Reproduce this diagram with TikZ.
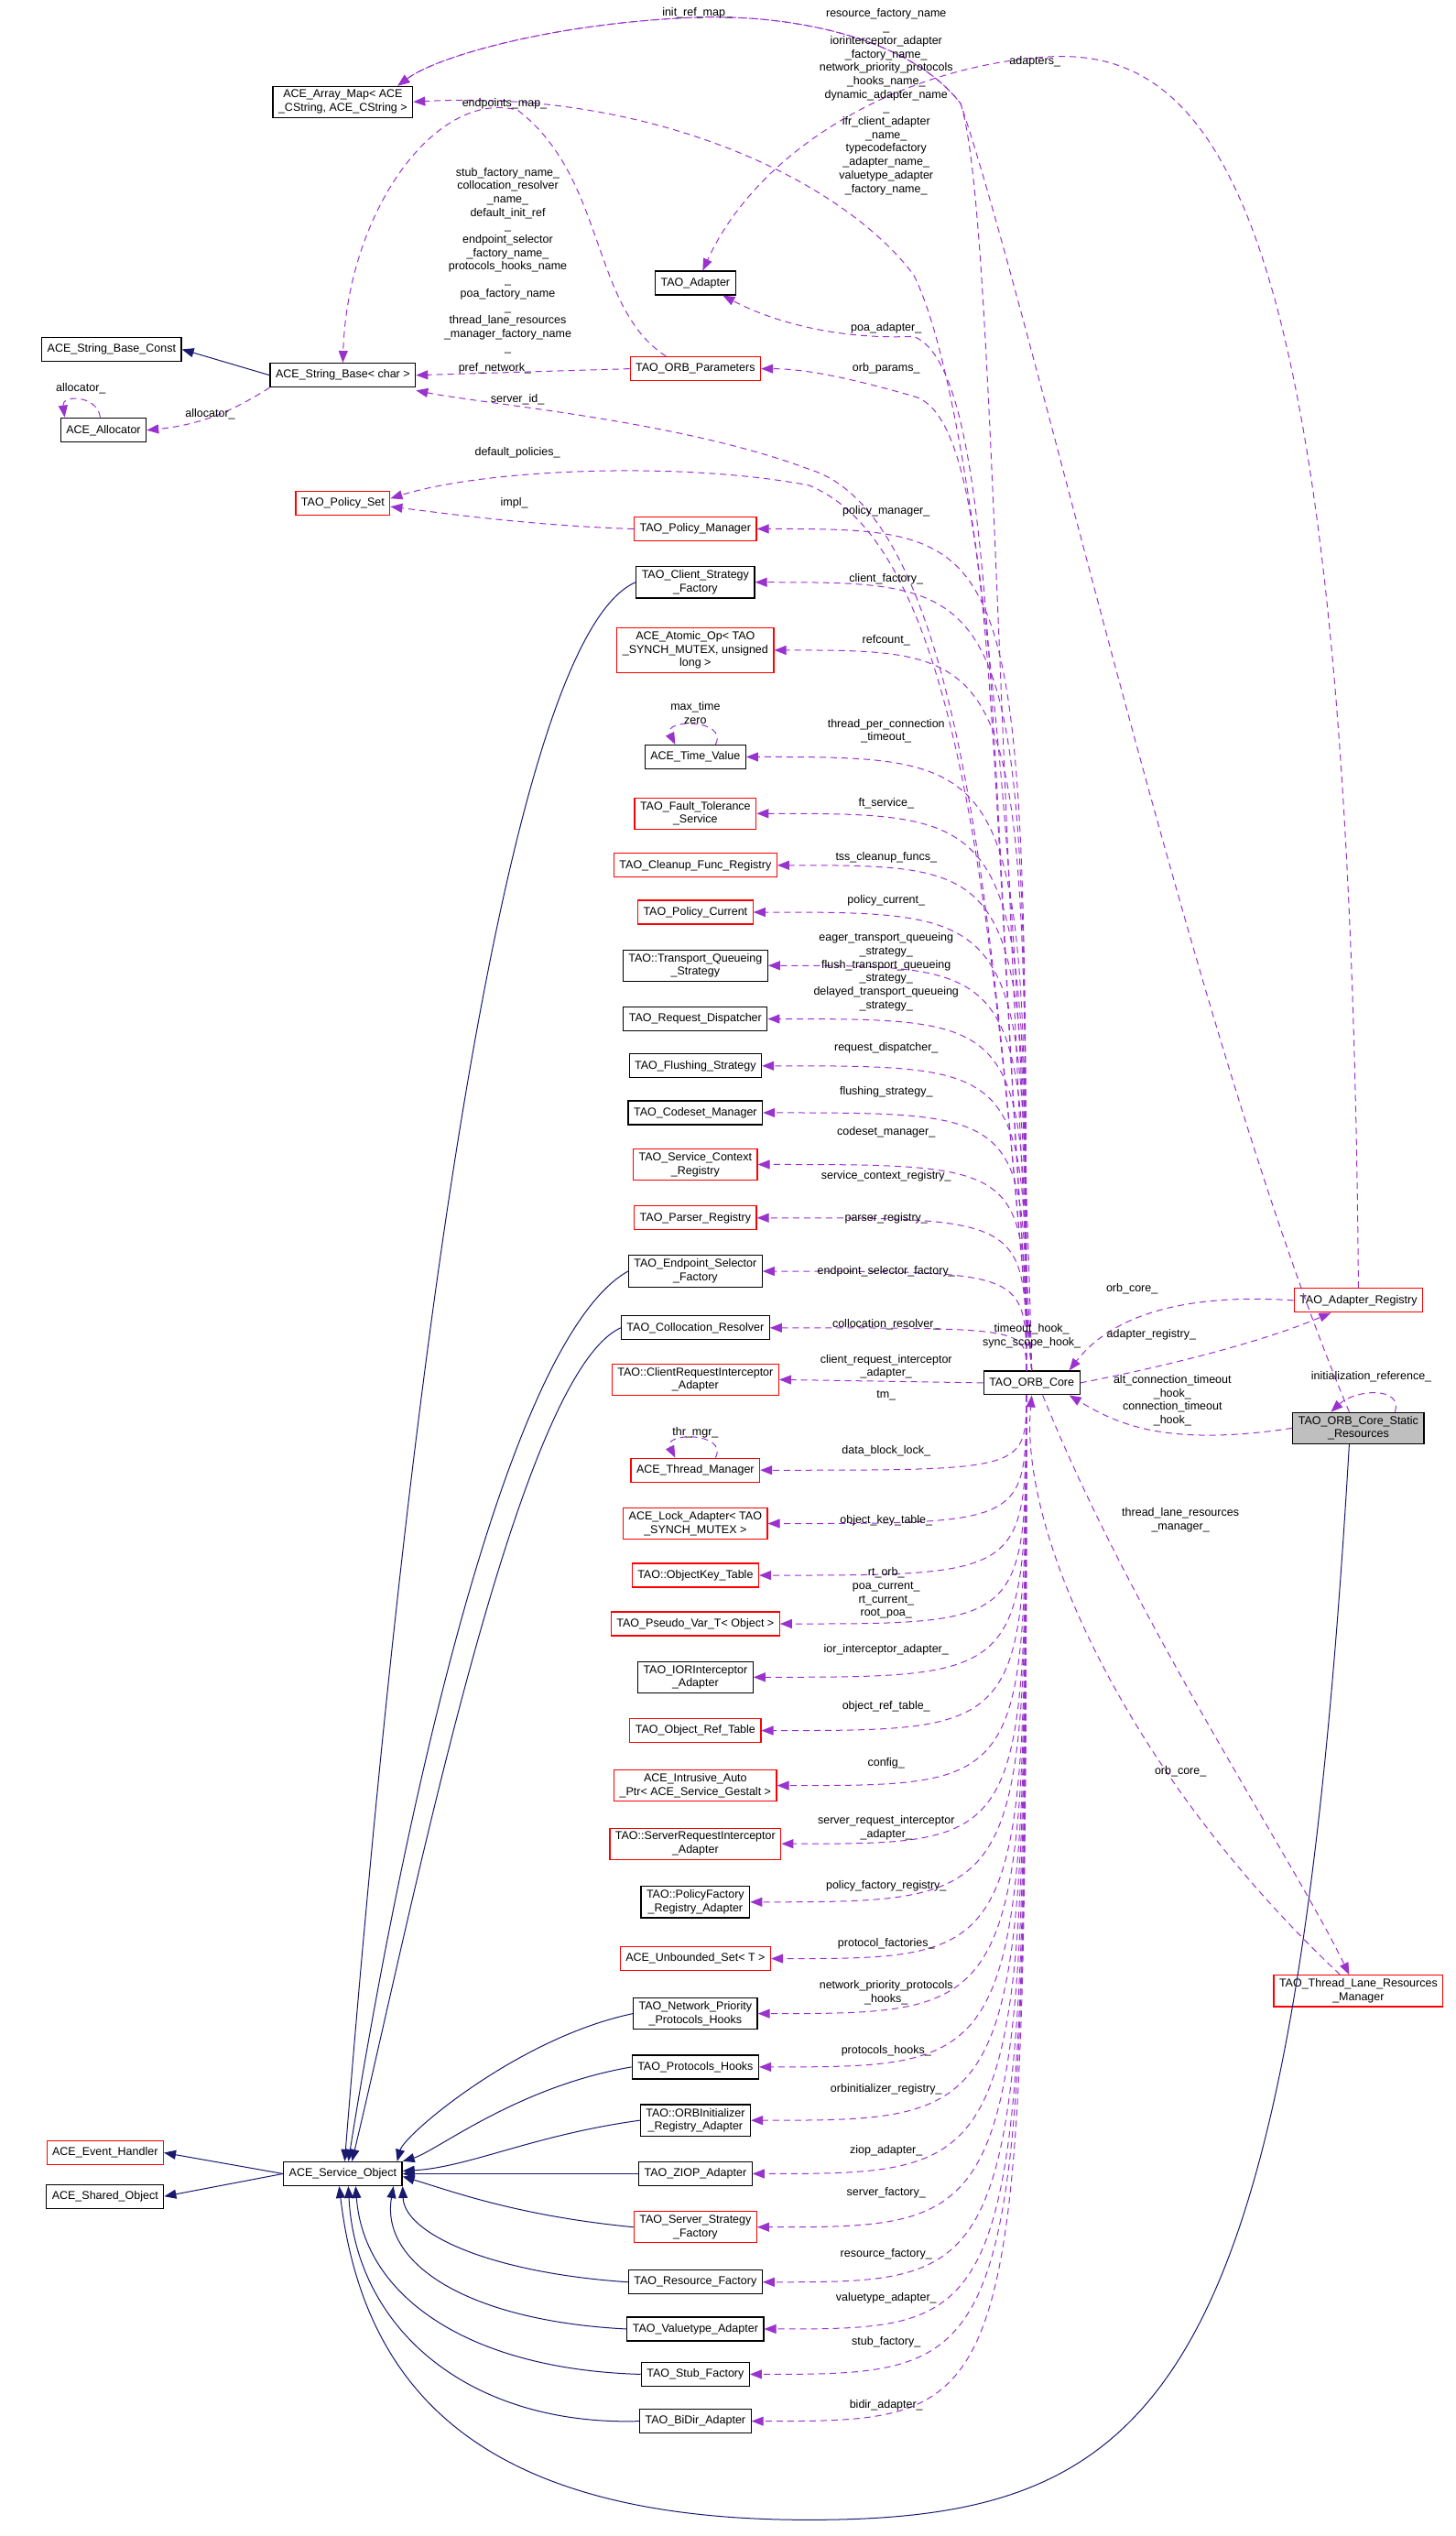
\documentclass[tikz,border=0pt]{standalone}
\usepackage{fontspec}
\setmainfont{Liberation Sans}
\usetikzlibrary{arrows.meta}
\definecolor{depc}{HTML}{9A32CD}
\definecolor{inhc}{HTML}{191970}
\tikzset{
 box/.style={draw=black, line width=1.2pt, fill=white, align=center, inner xsep=6pt, inner ysep=4pt, minimum height=26pt, font=\fontsize{12.5}{14.7}\selectfont},
 rbox/.style={box, draw=red},
 gbox/.style={box, fill=black!25},
 lab/.style={font=\fontsize{12.5}{14.7}\selectfont, align=center, inner sep=1pt},
 dep/.style={draw=depc, dash pattern=on 7pt off 5pt, line width=1pt, -{Triangle[length=13pt,width=10pt]}},
 inh/.style={draw=inhc, line width=1pt, -{Triangle[length=13pt,width=10pt]}}
}
\begin{document}
\catcode`\_=12
\begin{tikzpicture}[x=1.766pt,y=-1.766pt]
\useasboundingbox[fill=white] (0,0) rectangle (900,1568);
% left nodes
\node[box] (am) at (212,63) {ACE_Array_Map< ACE\\_CString, ACE_CString >};
\node[box] (sbc) at (69,216) {ACE_String_Base_Const};
\node[box] (sb) at (212,232) {ACE_String_Base< char >};
\node[box] (alloc) at (64,266) {ACE_Allocator};
\node[rbox] (ps) at (212,311) {TAO_Policy_Set};
\node[rbox] (eh) at (65,1331) {ACE_Event_Handler};
\node[box] (sho) at (65,1358) {ACE_Shared_Object};
\node[box] (so) at (212,1344) {ACE_Service_Object};
% middle column
\node[box] (tad) at (430,175) {TAO_Adapter};
\node[rbox] (op) at (430,228) {TAO_ORB_Parameters};
\node[rbox] (pm) at (430,327) {TAO_Policy_Manager};
\node[box] (csf) at (430,360) {TAO_Client_Strategy\\_Factory};
\node[rbox] (atom) at (430,402) {ACE_Atomic_Op< TAO\\_SYNCH_MUTEX, unsigned\\long >};
\node[box] (tv) at (430,468) {ACE_Time_Value};
\node[rbox] (fts) at (430,503) {TAO_Fault_Tolerance\\_Service};
\node[rbox] (cfr) at (430,535) {TAO_Cleanup_Func_Registry};
\node[rbox] (pc) at (430,564) {TAO_Policy_Current};
\node[box] (tqs) at (430,597) {TAO::Transport_Queueing\\_Strategy};
\node[box] (rd) at (430,630) {TAO_Request_Dispatcher};
\node[box] (fs) at (430,659) {TAO_Flushing_Strategy};
\node[box] (cm) at (430,688) {TAO_Codeset_Manager};
\node[rbox] (scr) at (430,720) {TAO_Service_Context\\_Registry};
\node[rbox] (pr) at (430,753) {TAO_Parser_Registry};
\node[box] (esf) at (430,786) {TAO_Endpoint_Selector\\_Factory};
\node[box] (cr) at (430,821) {TAO_Collocation_Resolver};
\node[rbox] (cria) at (430,853) {TAO::ClientRequestInterceptor\\_Adapter};
\node[rbox] (thm) at (430,909) {ACE_Thread_Manager};
\node[rbox] (la) at (430,942) {ACE_Lock_Adapter< TAO\\_SYNCH_MUTEX >};
\node[rbox] (okt) at (430,974) {TAO::ObjectKey_Table};
\node[rbox] (pvt) at (430,1004) {TAO_Pseudo_Var_T< Object >};
\node[box] (iia) at (430,1037) {TAO_IORInterceptor\\_Adapter};
\node[rbox] (ort) at (430,1070) {TAO_Object_Ref_Table};
\node[rbox] (iap) at (430,1104) {ACE_Intrusive_Auto\\_Ptr< ACE_Service_Gestalt >};
\node[rbox] (sria) at (430,1140) {TAO::ServerRequestInterceptor\\_Adapter};
\node[box] (pfra) at (430,1176) {TAO::PolicyFactory\\_Registry_Adapter};
\node[rbox] (us) at (430,1211) {ACE_Unbounded_Set< T >};
\node[box] (nppf) at (430,1245) {TAO_Network_Priority\\_Protocols_Hooks};
\node[box] (ph) at (430,1278) {TAO_Protocols_Hooks};
\node[box] (oria) at (430,1311) {TAO::ORBInitializer\\_Registry_Adapter};
\node[box] (ziop) at (430,1344) {TAO_ZIOP_Adapter};
\node[rbox] (ssf) at (430,1377) {TAO_Server_Strategy\\_Factory};
\node[box] (rf) at (430,1411) {TAO_Resource_Factory};
\node[box] (va) at (430,1440) {TAO_Valuetype_Adapter};
\node[box] (stf) at (430,1468) {TAO_Stub_Factory};
\node[box] (bda) at (430,1497) {TAO_BiDir_Adapter};
% right
\node[box] (core) at (638,855) {TAO_ORB_Core};
\node[rbox] (ar) at (840,804) {TAO_Adapter_Registry};
\node[gbox] (st) at (840,883) {TAO_ORB_Core_Static\\_Resources};
\node[rbox] (tlrm) at (840,1231) {TAO_Thread_Lane_Resources\\_Manager};

% inheritance
\draw[inh] (sb.west) -- (sbc.east);
\draw[inh] (so.west) -- (eh.east);
\draw[inh] (so.west) -- (sho.east);
\draw[inh] (csf.west) .. controls (300,400) and (240,1000) .. ([xshift=2pt]so.north);
\draw[inh] (esf.west) .. controls (310,830) and (245,1150) .. ([xshift=6pt]so.north);
\draw[inh] (cr.west) .. controls (320,850) and (255,1180) .. ([xshift=10pt]so.north);
\draw[inh] (nppf.west) .. controls (320,1260) and (250,1320) .. ([xshift=-6pt]so.north east);
\draw[inh] (ph.west) .. controls (320,1290) and (270,1330) .. (so.north east);
\draw[inh] (oria.west) .. controls (330,1320) and (290,1340) .. ([yshift=3pt]so.east);
\draw[inh] (ziop.west) -- (so.east);
\draw[inh] (ssf.west) .. controls (320,1370) and (280,1355) .. ([yshift=-3pt]so.east);
\draw[inh] (rf.west) .. controls (300,1405) and (250,1380) .. (so.south east);
\draw[inh] (va.west) .. controls (290,1435) and (235,1400) .. ([xshift=-10pt]so.south east);
\draw[inh] (stf.west) .. controls (290,1465) and (225,1420) .. ([xshift=14pt]so.south);
\draw[inh] (bda.west) .. controls (290,1500) and (220,1440) .. ([xshift=6pt]so.south);
\draw[inh] ([xshift=-10pt]st.south) .. controls (800,1480) and (720,1558) .. (500,1558) .. controls (300,1558) and (225,1480) .. ([xshift=-4pt]so.south);

% top curves
\draw[dep] (core.north) .. controls (615,400) and (612,120) .. (594,64) .. controls (560,20) and (480,8) .. (425,11) .. controls (340,15) and (270,35) .. ([xshift=60pt]am.north);
\draw[dep] ([xshift=-10pt]st.north) .. controls (740,650) and (640,200) .. (594,64) .. controls (560,20) and (480,8) .. (425,11) .. controls (340,15) and (270,35) .. ([xshift=60pt]am.north);
\draw[dep] (core.north) .. controls (630,500) and (600,240) .. (565,170) .. controls (520,110) and (400,55) .. (am.east);
\draw[dep] ([xshift=-32pt]op.north) .. controls (365,190) and (375,110) .. (320,68) .. controls (270,55) and (215,130) .. (sb.north);
\draw[dep] (ar.north) .. controls (835,150) and (760,30) .. (650,35) .. controls (560,40) and (470,90) .. ([xshift=8pt]tad.north);
\draw[dep] (core.north) .. controls (610,500) and (620,230) .. (565,208) .. controls (520,210) and (480,200) .. ([xshift=30pt]tad.south);
\draw[dep] (op.west) -- (sb.east);
\draw[dep] (core.north) .. controls (610,500) and (620,260) .. (565,245) .. controls (530,235) and (500,228) .. (op.east);
\draw[dep] (core.north) .. controls (615,600) and (600,320) .. (500,290) .. controls (420,260) and (300,250) .. ([yshift=-3pt]sb.south east);
\draw[dep] (core.north) .. controls (615,600) and (600,340) .. (500,300) .. controls (420,285) and (300,290) .. ([yshift=5pt]ps.east);
\draw[dep] (pm.west) .. controls (330,325) and (280,318) .. ([yshift=-4pt]ps.east);
\draw[dep] (sb.south west) .. controls (150,250) and (130,262) .. (alloc.east);
\draw[dep] (62,258) .. controls (60,244) and (38,244) .. (40,258);

% core to middle
\foreach \n in {pm,csf,atom,tv,fts,cfr,pc,tqs,rd,fs,cm,scr,pr,esf,cr}
  \draw[dep] ([xshift=-6pt]core.north) .. controls ([xshift=-6pt]core.north |- \n.east) .. (\n.east);
\draw[dep] (core.west) -- (cria.east);
\foreach \n in {thm,la,okt,pvt,iia,ort,iap,sria,pfra,us,nppf,ph,oria,ziop,ssf,rf,va,stf,bda}
  \draw[dep] ([xshift=-6pt]core.south) .. controls ([xshift=-6pt]core.south |- \n.east) .. (\n.east);
% self loops
\draw[dep] ([xshift=22pt]tv.north) .. controls +(8,-16) and +(-8,-16) .. ([xshift=-22pt]tv.north);
\draw[dep] ([xshift=22pt]thm.north) .. controls +(8,-16) and +(-8,-16) .. ([xshift=-22pt]thm.north);
\draw[dep] ([xshift=40pt]st.north) .. controls +(5,-16) and +(15,-14) .. ([xshift=-30pt]st.north);
% right side
\draw[dep] (ar.west) .. controls (740,800) and (690,810) .. ([xshift=-12pt]core.north east);
\draw[dep] (core.east) .. controls (720,845) and (780,830) .. ([xshift=-30pt]ar.south);
\draw[dep] (st.west) .. controls (720,895) and (690,880) .. ([xshift=-12pt]core.south east);
\draw[dep] ([xshift=12pt]core.south) .. controls (700,1000) and (800,1150) .. ([xshift=-10pt]tlrm.north);
\draw[dep] ([xshift=-20pt]tlrm.north) .. controls (700,1100) and (630,950) .. (core.south);

% labels
\node[lab] (l1) at (431,8) {init_ref_map_};
\node[lab] (l2) at (548,63) {resource_factory_name\\_\\iorinterceptor_adapter\\_factory_name_\\network_priority_protocols\\_hooks_name_\\dynamic_adapter_name\\_\\ifr_client_adapter\\_name_\\typecodefactory\\_adapter_name_\\valuetype_adapter\\_factory_name_};
\node[lab] (l3) at (640,38) {adapters_};
\node[lab] (l4) at (312,64) {endpoints_map_};
\node[lab] (l5) at (314,161) {stub_factory_name_\\collocation_resolver\\_name_\\default_init_ref\\_\\endpoint_selector\\_factory_name_\\protocols_hooks_name\\_\\poa_factory_name\\_\\thread_lane_resources\\_manager_factory_name\\_};
\node[lab] (l6) at (306,228) {pref_network_};
\node[lab] (l7) at (320,247) {server_id_};
\node[lab] (l8) at (320,280) {default_policies_};
\node[lab] (l9) at (318,311) {impl_};
\node[lab] (l10) at (130,256) {allocator_};
\node[lab] (l11) at (50,240) {allocator_};
\node[lab] (l12) at (548,203) {poa_adapter_};
\node[lab] (l13) at (548,228) {orb_params_};
\node[lab] (l14) at (548,316) {policy_manager_};
\node[lab] (l15) at (548,358) {client_factory_};
\node[lab] (l16) at (548,396) {refcount_};
\node[lab] (l17) at (548,452) {thread_per_connection\\_timeout_};
\node[lab] (l18) at (548,497) {ft_service_};
\node[lab] (l19) at (548,530) {tss_cleanup_funcs_};
\node[lab] (l20) at (548,557) {policy_current_};
\node[lab] (l21) at (548,601) {eager_transport_queueing\\_strategy_\\flush_transport_queueing\\_strategy_\\delayed_transport_queueing\\_strategy_};
\node[lab] (l22) at (548,648) {request_dispatcher_};
\node[lab] (l23) at (548,675) {flushing_strategy_};
\node[lab] (l24) at (548,700) {codeset_manager_};
\node[lab] (l25) at (548,727) {service_context_registry_};
\node[lab] (l26) at (548,753) {parser_registry_};
\node[lab] (l27) at (548,786) {endpoint_selector_factory_};
\node[lab] (l28) at (548,819) {collocation_resolver_};
\node[lab] (l29) at (548,845) {client_request_interceptor\\_adapter_};
\node[lab] (l30) at (548,863) {tm_};
\node[lab] (l31) at (548,897) {data_block_lock_};
\node[lab] (l32) at (548,940) {object_key_table_};
\node[lab] (l33) at (548,985) {rt_orb_\\poa_current_\\rt_current_\\root_poa_};
\node[lab] (l34) at (548,1020) {ior_interceptor_adapter_};
\node[lab] (l35) at (548,1055) {object_ref_table_};
\node[lab] (l36) at (548,1090) {config_};
\node[lab] (l37) at (548,1130) {server_request_interceptor\\_adapter_};
\node[lab] (l38) at (548,1166) {policy_factory_registry_};
\node[lab] (l39) at (548,1202) {protocol_factories_};
\node[lab] (l40) at (548,1232) {network_priority_protocols\\_hooks_};
\node[lab] (l41) at (548,1268) {protocols_hooks_};
\node[lab] (l42) at (548,1292) {orbinitializer_registry_};
\node[lab] (l43) at (548,1330) {ziop_adapter_};
\node[lab] (l44) at (548,1356) {server_factory_};
\node[lab] (l45) at (548,1394) {resource_factory_};
\node[lab] (l46) at (548,1421) {valuetype_adapter_};
\node[lab] (l47) at (548,1448) {stub_factory_};
\node[lab] (l48) at (548,1487) {bidir_adapter_};
\node[lab] (l49) at (430,441) {max_time\\zero};
\node[lab] (l50) at (430,886) {thr_mgr_};
\node[lab] (l51) at (638,826) {timeout_hook_\\sync_scope_hook_};
\node[lab] (l52) at (700,797) {orb_core_};
\node[lab] (l53) at (712,825) {adapter_registry_};
\node[lab] (l54) at (725,866) {alt_connection_timeout\\_hook_\\connection_timeout\\_hook_};
\node[lab] (l55) at (848,851) {initialization_reference_};
\node[lab] (l56) at (730,940) {thread_lane_resources\\_manager_};
\node[lab] (l57) at (730,1095) {orb_core_};
\end{tikzpicture}
\end{document}
